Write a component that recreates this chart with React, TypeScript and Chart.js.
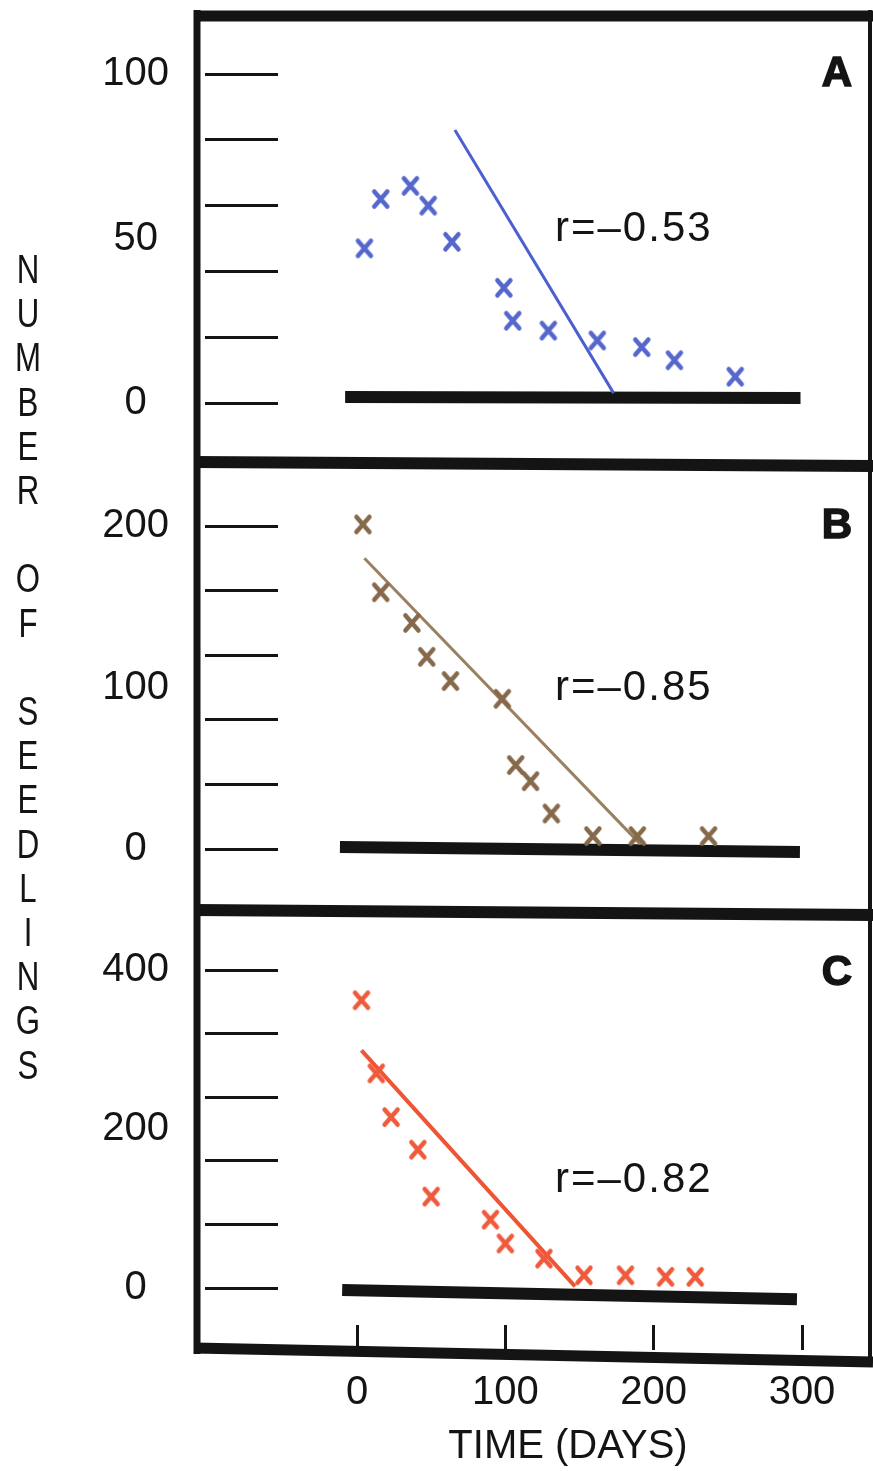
import React, { useEffect, useRef } from 'react';
import { Chart, registerables } from 'chart.js';

Chart.register(...registerables);

// ---------------- data ----------------
const xTickValues = [0, 100, 200, 300];
const xAxisTitle = 'TIME (DAYS)';
const yAxisTitle = 'NUMBER OF SEEDLINGS';

// Panel A
const daysA = [5, 16, 36, 48, 64, 99, 105, 129, 162, 192, 214, 255];
const seedA = [47, 62, 66, 60, 49, 35, 25, 22, 19, 17, 13, 8];
const fitDaysA = [66, 173];
const fitSeedA = [83, 3];
const baseDaysA = [-8, 299];
const baseSeedA = [1.8, 1.5];
const tickMarksA = [0, 20, 40, 60, 80, 100];
const tickLabelsA = [0, 50, 100];
const rTextA = 'r=\u20130.53';

// Panel B
const daysB = [4, 16, 37, 47, 63, 98, 107, 117, 131, 159, 189, 237];
const seedB = [201, 159, 140, 119, 104, 93, 52, 42, 22, 8, 8, 8];
const fitDaysB = [5, 191];
const fitSeedB = [180, 3];
const baseDaysB = [-11.5, 298.6];
const baseSeedB = [1.2, -1.9];
const tickMarksB = [0, 40, 80, 120, 160, 200];
const tickLabelsB = [0, 100, 200];
const rTextB = 'r=\u20130.85';

// Panel C
const daysC = [3, 13, 23, 41, 50, 90, 100, 126, 153, 181, 208, 228];
const seedC = [362, 270, 215, 174, 115, 86, 56, 37, 16, 16, 14, 14];
const fitDaysC = [3, 147];
const fitSeedC = [299, 2];
const baseDaysC = [-10, 296.6];
const baseSeedC = [-2.5, -14];
const tickMarksC = [0, 80, 160, 240, 320, 400];
const tickLabelsC = [0, 200, 400];
const rTextC = 'r=\u20130.82';

// ---------------- layout ----------------
const W = 873;
const H = 1471;
const FONT = "'Liberation Sans', Arial, Helvetica, sans-serif";
const INK = '#141414';
const AREA_LEFT = 278;
const AREA_RIGHT = 858;
const X0_PX = 357;
const X_PER_UNIT = 445 / 300;
const X_MIN = -(X0_PX - AREA_LEFT) / X_PER_UNIT;
const X_MAX = (AREA_RIGHT - X0_PX) / X_PER_UNIT;

type Panel = {
  days: number[];
  seed: number[];
  fitDays: number[];
  fitSeed: number[];
  baseDays: number[];
  baseSeed: number[];
  tickMarks: number[];
  tickLabels: number[];
  rText: string;
  letter: string;
  markColor: string;
  lineColor: string;
  lineWidth: number;
  top: number;
  bottom: number;
  zeroPx: number;
  pxPerUnit: number;
  rY: number;
  letterY: number;
  showX: boolean;
  drawFrame: boolean;
};

const panels: Panel[] = [
  {
    days: daysA, seed: seedA, fitDays: fitDaysA, fitSeed: fitSeedA,
    baseDays: baseDaysA, baseSeed: baseSeedA, tickMarks: tickMarksA, tickLabels: tickLabelsA,
    rText: rTextA, letter: 'A', markColor: '#5566cc', lineColor: '#4b60d0', lineWidth: 3,
    top: 62, bottom: 456, zeroPx: 403, pxPerUnit: 3.29, rY: 229, letterY: 74,
    showX: false, drawFrame: true,
  },
  {
    days: daysB, seed: seedB, fitDays: fitDaysB, fitSeed: fitSeedB,
    baseDays: baseDaysB, baseSeed: baseSeedB, tickMarks: tickMarksB, tickLabels: tickLabelsB,
    rText: rTextB, letter: 'B', markColor: '#86694a', lineColor: '#9a8060', lineWidth: 3,
    top: 470, bottom: 904, zeroPx: 849, pxPerUnit: 1.615, rY: 688, letterY: 526,
    showX: false, drawFrame: false,
  },
  {
    days: daysC, seed: seedC, fitDays: fitDaysC, fitSeed: fitSeedC,
    baseDays: baseDaysC, baseSeed: baseSeedC, tickMarks: tickMarksC, tickLabels: tickLabelsC,
    rText: rTextC, letter: 'C', markColor: '#ef5a3c', lineColor: '#ef5535', lineWidth: 4,
    top: 918, bottom: 1325, zeroPx: 1288, pxPerUnit: 0.795, rY: 1180, letterY: 973,
    showX: true, drawFrame: false,
  },
];

function makeCross(color: string): HTMLCanvasElement {
  const c = document.createElement('canvas');
  c.width = 22;
  c.height = 24;
  const g = c.getContext('2d') as CanvasRenderingContext2D;
  g.strokeStyle = color;
  g.lineWidth = 4.5;
  g.lineCap = 'round';
  g.beginPath();
  g.moveTo(4.5, 4.5);
  g.lineTo(17.5, 19.5);
  g.moveTo(17.5, 4.5);
  g.lineTo(4.5, 19.5);
  g.stroke();
  return c;
}

function seg(ctx: CanvasRenderingContext2D, x1: number, y1: number, x2: number, y2: number, w: number) {
  ctx.beginPath();
  ctx.lineWidth = w;
  ctx.moveTo(x1, y1);
  ctx.lineTo(x2, y2);
  ctx.stroke();
}

function makeDecor(p: Panel) {
  return {
    id: 'decor' + p.letter,
    afterDraw(chart: any) {
      const ctx: CanvasRenderingContext2D = chart.ctx;
      ctx.save();
      ctx.fillStyle = INK;
      ctx.strokeStyle = INK;
      // r text
      ctx.font = `42px ${FONT}`;
      (ctx as any).letterSpacing = '2px';
      ctx.textAlign = 'left';
      ctx.textBaseline = 'middle';
      ctx.fillText(p.rText, 555, p.rY);
      (ctx as any).letterSpacing = '0px';
      // panel letter
      ctx.font = `bold 42px ${FONT}`;
      ctx.textAlign = 'center';
      ctx.fillText(p.letter, 837, p.letterY);
      ctx.lineWidth = 1.5;
      ctx.strokeText(p.letter, 837, p.letterY);

      if (p.drawFrame) {
        ctx.lineCap = 'butt';
        seg(ctx, 194, 16, W, 16, 11);
        seg(ctx, 197, 10, 197, 1354, 7);
        seg(ctx, 870, 10, 870, 1364, 4);
        seg(ctx, 194, 462, W, 466, 12);
        seg(ctx, 194, 910, W, 915, 12);
        seg(ctx, 194, 1348, W, 1362, 11);

        // vertical y-axis title
        ctx.font = `40px ${FONT}`;
        ctx.textAlign = 'center';
        ctx.textBaseline = 'middle';
        const chars = yAxisTitle.split('');
        const step = 44.2;
        chars.forEach((ch, i) => {
          if (ch === ' ') return;
          ctx.save();
          ctx.translate(28, 272 + i * step);
          ctx.scale(0.78, 1);
          ctx.fillText(ch, 0, 0);
          ctx.restore();
        });
      }
      ctx.restore();
    },
  };
}

function buildChart(canvas: HTMLCanvasElement, p: Panel) {
  const yMax = (p.zeroPx - p.top) / p.pxPerUnit;
  const yMin = (p.zeroPx - p.bottom) / p.pxPerUnit;
  const yTicks = Array.from(new Set([...p.tickMarks, ...p.tickLabels])).sort((a, b) => a - b);
  const font = { family: FONT, size: 40 };
  const cross = makeCross(p.markColor);

  const xScale: any = p.showX
    ? {
        type: 'linear',
        position: 'bottom',
        min: X_MIN,
        max: X_MAX,
        afterBuildTicks: (s: any) => {
          s.ticks = xTickValues.map((v) => ({ value: v }));
        },
        afterFit: (s: any) => {
          s.height = H - p.bottom;
        },
        grid: { drawOnChartArea: false, drawTicks: true, tickLength: 25, lineWidth: 3, tickWidth: 3, tickColor: INK },
        border: { display: false },
        ticks: {
          padding: 19, font, color: INK, autoSkip: false, maxRotation: 0, minRotation: 0,
          callback: (v: any) => String(v),
        },
        title: { display: true, text: xAxisTitle, font, color: INK, padding: { top: 0, bottom: 0 } },
      }
    : { type: 'linear', min: X_MIN, max: X_MAX, display: false };

  return new Chart(canvas, {
    type: 'scatter',
    data: {
      datasets: [
        {
          data: p.days.map((d, i) => ({ x: d, y: p.seed[i] })),
          pointStyle: cross,
          pointRadius: 10,
          borderColor: p.markColor,
          backgroundColor: p.markColor,
          showLine: false,
          order: 0,
        },
        {
          data: p.fitDays.map((d, i) => ({ x: d, y: p.fitSeed[i] })),
          showLine: true,
          borderColor: p.lineColor,
          borderWidth: p.lineWidth,
          pointRadius: 0,
          order: 1,
        },
        {
          data: p.baseDays.map((d, i) => ({ x: d, y: p.baseSeed[i] })),
          showLine: true,
          borderColor: INK,
          borderWidth: 12,
          borderCapStyle: 'butt',
          pointRadius: 0,
          order: 2,
        },
      ] as any,
    },
    options: {
      responsive: false,
      animation: false,
      devicePixelRatio: 1,
      events: [],
      layout: {
        autoPadding: false,
        padding: { left: 0, right: W - AREA_RIGHT, top: p.top, bottom: p.showX ? 0 : H - p.bottom },
      } as any,
      plugins: { legend: { display: false }, tooltip: { enabled: false } },
      scales: {
        x: xScale,
        y: {
          type: 'linear',
          position: 'left',
          min: yMin,
          max: yMax,
          afterBuildTicks: (s: any) => {
            s.ticks = yTicks.map((v) => ({ value: v }));
          },
          afterFit: (s: any) => {
            s.width = AREA_LEFT;
          },
          grid: {
            drawOnChartArea: false,
            drawTicks: true,
            tickLength: 73,
            lineWidth: 3,
            tickWidth: 3,
            tickColor: (c: any) =>
              c.tick && !p.tickMarks.includes(c.tick.value) ? 'rgba(0,0,0,0)' : INK,
          },
          border: { display: false },
          ticks: {
            padding: 36,
            crossAlign: 'center',
            autoSkip: false,
            font,
            color: INK,
            callback: (v: any) => (p.tickLabels.includes(v) ? String(v) : ''),
          },
        } as any,
      },
    },
    plugins: [makeDecor(p)],
  });
}

export default function App() {
  const refA = useRef<HTMLCanvasElement>(null);
  const refB = useRef<HTMLCanvasElement>(null);
  const refC = useRef<HTMLCanvasElement>(null);

  useEffect(() => {
    const refs = [refA, refB, refC];
    const charts = panels.map((p, i) => buildChart(refs[i].current as HTMLCanvasElement, p));
    return () => charts.forEach((c) => c.destroy());
  }, []);

  const cs: React.CSSProperties = { position: 'absolute', left: 0, top: 0, width: W, height: H };
  return (
    <div style={{ position: 'absolute', left: 0, top: 0, width: W, height: H, background: '#ffffff' }}>
      <canvas ref={refA} width={W} height={H} style={cs} />
      <canvas ref={refB} width={W} height={H} style={cs} />
      <canvas ref={refC} width={W} height={H} style={cs} />
    </div>
  );
}
